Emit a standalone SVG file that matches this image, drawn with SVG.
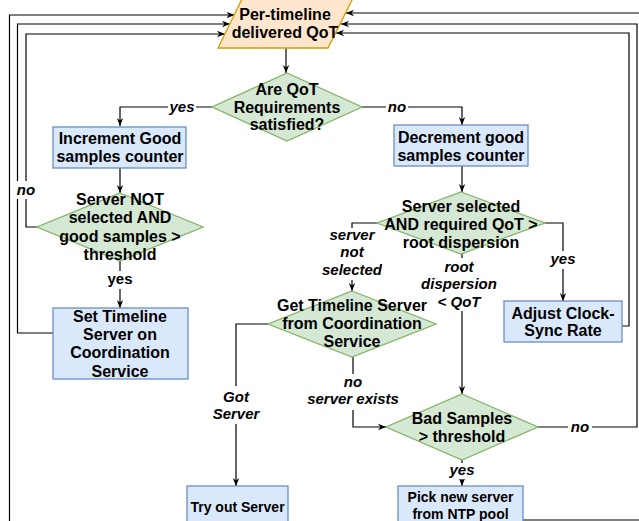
<svg xmlns="http://www.w3.org/2000/svg" width="639" height="521" viewBox="0 0 639 521">
<defs>
<marker id="arr" viewBox="0 0 10 10" refX="10" refY="5" markerWidth="8" markerHeight="8" markerUnits="userSpaceOnUse" orient="auto">
<path d="M0,1 L10,5 L0,9 L3,5 z" fill="#000"/>
</marker>
<style>
.box{fill:#dae8fc;stroke:#6c8ebf;stroke-width:1.3}
.dia{fill:#d5e8d4;stroke:#82b366;stroke-width:1.3}
.io{fill:#ffe6cc;stroke:#d79b00;stroke-width:1.3}
.c{fill:none;stroke:#000;stroke-width:1.2}
.a{marker-end:url(#arr)}
text{font-family:"Liberation Sans",Arial,Helvetica,sans-serif;font-weight:bold;text-anchor:middle;fill:#000}
.t{font-size:16px}
.s{font-size:14px}
.l{font-size:15px;font-style:italic}
.ln{font-size:15px}
.bg{fill:#fff}
</style>
</defs>
<rect width="639" height="521" fill="#fff"/>
<g id="connectors">
<path class="c a" d="M286,48 L286,73"/>
<path class="c a" d="M212,107 L120,107 L120,126"/>
<path class="c a" d="M362,107 L462,107 L462,125"/>
<path class="c a" d="M120,168 L120,193"/>
<path class="c a" d="M37,227 L26,227 L26,34 L225,34"/>
<path class="c a" d="M120,261 L120,308"/>
<path class="c a" d="M53,333 L17.5,333 L17.5,24 L230,24"/>
<path class="c a" d="M462,166 L462,192"/>
<path class="c a" d="M377,223 L352,223 L352,291"/>
<path class="c a" d="M545,223 L563,223 L563,301"/>
<path class="c a" d="M462,254 L462,394"/>
<path class="c a" d="M622,326 L629,326 L629,33 L336,33"/>
<path class="c a" d="M268,324 L236,324 L236,486"/>
<path class="c a" d="M353,357 L353,427 L386,427"/>
<path class="c a" d="M538,427 L637,427 L637,24 L341,24"/>
<path class="c a" d="M462,460 L462,486"/>
<path class="c a" d="M523,520 L645,520 L645,13 L346,13"/>
<path class="c a" d="M187,530 L9.5,530 L9.5,15 L234.5,15"/>
</g>
<g id="labels">
<rect class="bg" x="168" y="98" width="28" height="18"/>
<text class="l" x="182" y="112">yes</text>
<rect class="bg" x="386" y="98" width="22" height="18"/>
<text class="l" x="397" y="112">no</text>
<rect class="bg" x="16" y="181" width="21" height="18"/>
<text class="l" x="26" y="195">no</text>
<rect class="bg" x="106" y="271" width="28" height="18"/>
<text class="ln" x="120" y="284">yes</text>
<rect class="bg" x="322" y="228" width="62" height="52"/>
<text class="l" x="352" y="240">server</text>
<text class="l" x="352" y="257">not</text>
<text class="l" x="352" y="275">selected</text>
<rect class="bg" x="548" y="251" width="30" height="18"/>
<text class="l" x="563" y="264">yes</text>
<rect class="bg" x="420" y="258" width="78" height="53"/>
<text class="l" x="459" y="272">root</text>
<text class="l" x="459" y="288.5">dispersion</text>
<text class="l" x="459" y="306.5">&lt; QoT</text>
<rect class="bg" x="216" y="386" width="42" height="38"/>
<text class="l" x="236" y="401.5">Got</text>
<text class="l" x="236" y="419">Server</text>
<rect class="bg" x="305" y="374" width="96" height="36"/>
<text class="l" x="353" y="387">no</text>
<text class="l" x="353" y="404">server exists</text>
<rect class="bg" x="568" y="418" width="24" height="18"/>
<text class="l" x="580" y="432">no</text>
<rect class="bg" x="447" y="463" width="30" height="16"/>
<text class="l" x="462" y="475">yes</text>
</g>
<g id="n-qot">
<polygon class="io" points="242,-1 352.5,-1 328,48 218,48"/>
<text class="t" x="285" y="19.5">Per-timeline</text>
<text class="t" x="285" y="37.5">delivered QoT</text>
</g>
<g id="n-req">
<polygon class="dia" points="287,73 362,107 287,141 212,107"/>
<text class="t" x="287" y="94.5">Are QoT</text>
<text class="t" x="287" y="112.5">Requirements</text>
<text class="t" x="287" y="130">satisfied?</text>
</g>
<g id="n-inc">
<rect class="box" x="53" y="127" width="133" height="41"/>
<text class="t" x="120" y="144">Increment Good</text>
<text class="t" x="120" y="162">samples counter</text>
</g>
<g id="n-dec">
<rect class="box" x="394" y="125" width="134" height="41"/>
<text class="t" x="461" y="143">Decrement good</text>
<text class="t" x="461" y="161">samples counter</text>
</g>
<g id="n-notsel">
<polygon class="dia" points="120,193 203,227 120,261 37,227"/>
<text class="t" x="120" y="205">Server NOT</text>
<text class="t" x="120" y="223">selected AND</text>
<text class="t" x="120" y="241.5">good samples &gt;</text>
<text class="t" x="120" y="260">threshold</text>
</g>
<g id="n-settl">
<rect class="box" x="53" y="308" width="135" height="71"/>
<text class="t" x="120" y="322">Set Timeline</text>
<text class="t" x="120" y="340">Server on</text>
<text class="t" x="120" y="358">Coordination</text>
<text class="t" x="120" y="376.5">Service</text>
</g>
<g id="n-sel">
<polygon class="dia" points="461,192 545,223 461,254 377,223"/>
<text class="t" x="461" y="212">Server selected</text>
<text class="t" x="461" y="229.5">AND required QoT &gt;</text>
<text class="t" x="461" y="247.5">root dispersion</text>
</g>
<g id="n-adjust">
<rect class="box" x="504" y="301" width="118" height="41"/>
<text class="t" x="563" y="318.5">Adjust Clock-</text>
<text class="t" x="563" y="336">Sync Rate</text>
</g>
<g id="n-get">
<polygon class="dia" points="352,291 436,324 352,357 268,324"/>
<text class="t" x="352" y="311">Get Timeline Server</text>
<text class="t" x="352" y="329">from Coordination</text>
<text class="t" x="352" y="347">Service</text>
</g>
<g id="n-bad">
<polygon class="dia" points="462,394 538,427 462,460 386,427"/>
<text class="t" x="462" y="424">Bad Samples</text>
<text class="t" x="462" y="442">&gt; threshold</text>
</g>
<g id="n-try">
<rect class="box" x="187" y="486" width="101" height="45"/>
<text class="s" x="237.5" y="512">Try out Server</text>
</g>
<g id="n-pick">
<rect class="box" x="398" y="486" width="125" height="45"/>
<text class="s" x="460.5" y="502">Pick new server</text>
<text class="s" x="460.5" y="518.5">from NTP pool</text>
</g>
</svg>
